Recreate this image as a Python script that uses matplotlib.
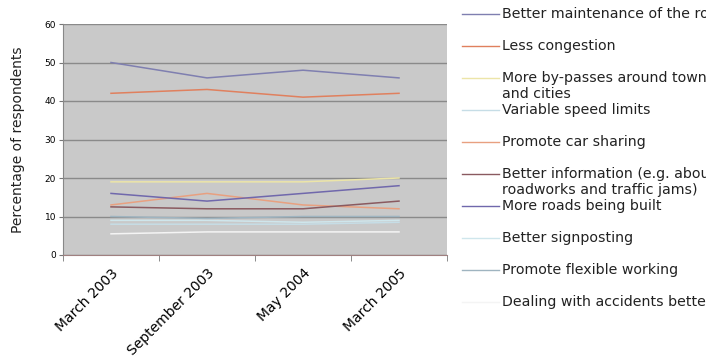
import matplotlib.pyplot as plt
from matplotlib.lines import Line2D

periods = ['March 2003', 'September 2003', 'May 2004', 'March 2005']

# survey answers, % of respondents
maintenance = [50, 46, 48, 46]
congestion = [42, 43, 41, 42]
bypasses = [19, 19, 19, 20]
speed_limits = [8, 8, 8, 8.5]
car_sharing = [13, 16, 13, 12]
information = [12.5, 12, 12, 14]
more_roads = [16, 14, 16, 18]
signposting = [9, 9, 8.5, 9]
flexible = [10, 9.5, 10, 10]
accidents = [5.5, 6, 6, 6]

series = [
    ('Better maintenance of the roads', maintenance, '#7f7fb0'),
    ('Less congestion', congestion, '#e0805e'),
    ('More by-passes around towns\nand cities', bypasses, '#ece5a8'),
    ('Variable speed limits', speed_limits, '#c6dde6'),
    ('Promote car sharing', car_sharing, '#e8a080'),
    ('Better information (e.g. about\nroadworks and traffic jams)', information, '#8a5a60'),
    ('More roads being built', more_roads, '#7068ac'),
    ('Better signposting', signposting, '#cfe6ec'),
    ('Promote flexible working', flexible, '#9fb4c0'),
    ('Dealing with accidents better', accidents, '#f4f4f4'),
]

W, H = 706, 362
fig = plt.figure(figsize=(W / 100, H / 100), dpi=100)
ax = fig.add_axes([63 / W, 1 - 255 / H, (447 - 63) / W, (255 - 24) / H])
ax.set_facecolor('#c9c9c9')

x = range(len(periods))
for name, vals, col in series:
    ax.plot(x, vals, color=col, lw=1.1)

ax.set_xlim(-0.5, 3.5)
ax.set_ylim(0, 60)
ax.set_yticks(range(0, 61, 10))
ax.yaxis.grid(True, color='#8a8a8a', lw=1.0)
ax.set_axisbelow(True)
ax.tick_params(axis='y', labelsize=6.5, length=3, color='#777777', pad=2)

ax.set_xticks([i + 0.5 for i in range(-1, 4)], minor=True)
ax.set_xticks(list(x))
ax.set_xticklabels(periods, rotation=45, ha='right', rotation_mode='anchor', fontsize=10)
ax.tick_params(axis='x', which='major', length=0, pad=8)
ax.tick_params(axis='x', which='minor', length=4, color='#777777')

for s in ['top', 'right']:
    ax.spines[s].set_visible(False)
ax.spines['left'].set_color('#888888')
ax.spines['bottom'].set_color('#a08080')
ax.set_ylabel('Percentage of respondents', fontsize=10, labelpad=14, color='#222222')

# legend drawn by hand so it runs off the right edge like the original
y0 = 14
for i, (name, vals, col) in enumerate(series):
    yy = 1 - (y0 + i * 32) / H
    fig.add_artist(Line2D([462 / W, 499 / W], [yy, yy], color=col, lw=1.0))
    lines = name.split('\n')
    fig.text(502 / W, yy, lines[0], fontsize=10.2, va='center', ha='left', color='#222222')
    if len(lines) > 1:
        fig.text(502 / W, yy - 16 / H, lines[1], fontsize=10.2, va='center', ha='left', color='#222222')

plt.savefig('out.png', dpi=100)
